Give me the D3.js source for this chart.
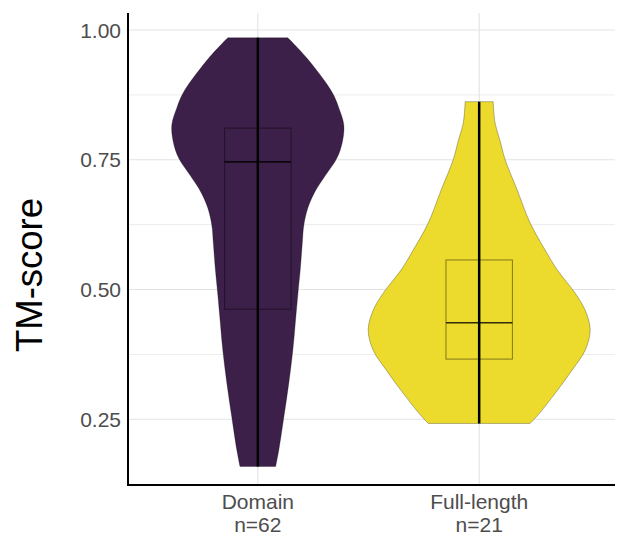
<!DOCTYPE html>
<html>
<head>
<meta charset="utf-8">
<script src="https://cdn.jsdelivr.net/npm/d3@7"></script>
<style>
  html, body { margin: 0; padding: 0; background: #fff; }
  svg { display: block; font-family: "Liberation Sans", Arial, sans-serif; }
</style>
</head>
<body>
<svg id="chart" width="622" height="535"></svg>
<script>
// ---- data ----
const categories = ["Domain", "Full-length"];
const counts = [62, 21];
const fillColors = ["#3c2049", "#ecda2c"];
const yTicks = [0.25, 0.50, 0.75, 1.00];
const yMinorTicks = [0.375, 0.625, 0.875];

// violin density profiles (TM-score value, relative density)
const domainValues  = [0.985, 0.946, 0.881, 0.850, 0.817, 0.784, 0.753, 0.721, 0.688, 0.657, 0.624, 0.590, 0.540, 0.490, 0.447, 0.383, 0.320, 0.254, 0.191, 0.159];
const domainDensity = [0.30, 0.49, 0.74, 0.81, 0.86, 0.845, 0.79, 0.68, 0.57, 0.50, 0.46, 0.445, 0.425, 0.40, 0.38, 0.35, 0.31, 0.26, 0.21, 0.178];
const fullValues    = [0.862, 0.820, 0.788, 0.750, 0.692, 0.628, 0.576, 0.538, 0.493, 0.460, 0.422, 0.383, 0.345, 0.300, 0.261, 0.242];
const fullDensity   = [0.14, 0.16, 0.207, 0.26, 0.38, 0.51, 0.66, 0.78, 0.96, 1.06, 1.11, 1.06, 0.93, 0.76, 0.60, 0.51];

// box statistics
const mins    = [0.159, 0.242];
const q1s     = [0.462, 0.366];
const medians = [0.746, 0.436];
const q3s     = [0.811, 0.557];
const maxs    = [0.985, 0.862];

// ---- layout ----
const svg = d3.select("#chart");
const pLeft = 128, pRight = 615, pTop = 13, pBottom = 485;

const x = d3.scalePoint().domain(categories).range([125, 612]).padding(0.6);
const y = d3.scaleLinear().domain([0.1234, 1.0328]).range([pBottom, pTop]);
const w = d3.scaleLinear().domain([0, 1]).range([0, 100]);
const boxHalf = x.step() * 0.15;

// grid
const grid = svg.append("g");
grid.selectAll(".minor").data(yMinorTicks).join("line")
  .attr("x1", pLeft).attr("x2", pRight)
  .attr("y1", d => y(d)).attr("y2", d => y(d))
  .attr("stroke", "#ededed").attr("stroke-width", 1);
grid.selectAll(".major").data(yTicks).join("line")
  .attr("x1", pLeft).attr("x2", pRight)
  .attr("y1", d => y(d)).attr("y2", d => y(d))
  .attr("stroke", "#e3e3e3").attr("stroke-width", 1.1);
grid.selectAll(".vert").data(categories).join("line")
  .attr("x1", d => x(d)).attr("x2", d => x(d))
  .attr("y1", pTop).attr("y2", pBottom)
  .attr("stroke", "#e3e3e3").attr("stroke-width", 1.1);

// violins
const profiles = [
  domainValues.map((v, i) => ({v, d: domainDensity[i]})),
  fullValues.map((v, i) => ({v, d: fullDensity[i]}))
];
categories.forEach((cat, i) => {
  const cx = x(cat);
  const area = d3.area()
    .y(p => y(p.v))
    .x0(p => cx - w(p.d))
    .x1(p => cx + w(p.d))
    .curve(d3.curveCatmullRom.alpha(0.5));
  svg.append("path")
    .datum(profiles[i])
    .attr("d", area)
    .attr("fill", fillColors[i])
    .attr("stroke", "rgba(0,0,0,0.35)")
    .attr("stroke-width", 0.8);
});

// boxplots
categories.forEach((cat, i) => {
  const cx = x(cat);
  const g = svg.append("g");
  g.append("rect")
    .attr("x", cx - boxHalf).attr("width", 2 * boxHalf)
    .attr("y", y(q3s[i])).attr("height", y(q1s[i]) - y(q3s[i]))
    .attr("fill", "none")
    .attr("stroke", "rgba(0,0,0,0.45)").attr("stroke-width", 1);
  g.append("line")
    .attr("x1", cx - boxHalf).attr("x2", cx + boxHalf)
    .attr("y1", y(medians[i])).attr("y2", y(medians[i]))
    .attr("stroke", "rgba(0,0,0,0.8)").attr("stroke-width", 1.6);
  g.append("line")
    .attr("x1", cx).attr("x2", cx)
    .attr("y1", y(maxs[i])).attr("y2", y(mins[i]))
    .attr("stroke", "#000").attr("stroke-width", 2.5);
});

// axes lines
svg.append("line").attr("x1", pLeft).attr("x2", pLeft).attr("y1", pTop).attr("y2", pBottom + 1)
  .attr("stroke", "#000").attr("stroke-width", 2);
svg.append("line").attr("x1", pLeft - 1).attr("x2", pRight).attr("y1", pBottom).attr("y2", pBottom)
  .attr("stroke", "#000").attr("stroke-width", 2);

// y tick labels
svg.selectAll(".ytick").data(yTicks).join("text")
  .attr("x", 121).attr("y", d => y(d))
  .attr("dy", "0.36em")
  .attr("text-anchor", "end")
  .attr("font-size", 21)
  .attr("fill", "#4d4d4d")
  .text(d => d3.format(".2f")(d));

// x labels
categories.forEach((cat, i) => {
  const t = svg.append("text")
    .attr("text-anchor", "middle")
    .attr("font-size", 21)
    .attr("fill", "#4d4d4d");
  t.append("tspan").attr("x", x(cat)).attr("y", 508.5).text(cat);
  t.append("tspan").attr("x", x(cat)).attr("y", 531.5).text("n=" + counts[i]);
});

// y title
svg.append("text")
  .attr("transform", "translate(41.5,275) rotate(-90)")
  .attr("text-anchor", "middle")
  .attr("font-size", 36.5)
  .attr("fill", "#000")
  .text("TM-score");
</script>
</body>
</html>
